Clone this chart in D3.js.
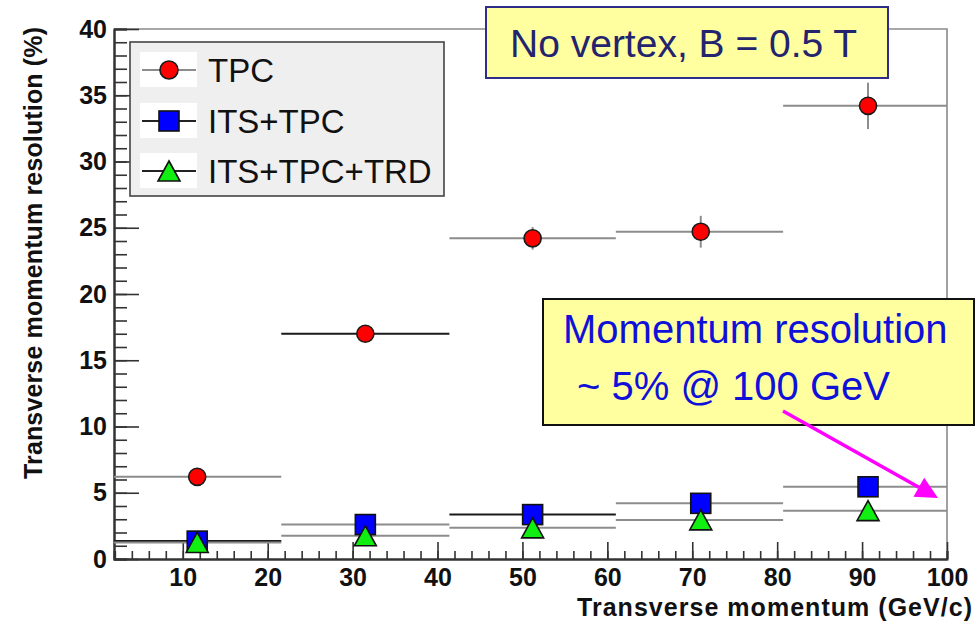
<!DOCTYPE html>
<html>
<head>
<meta charset="utf-8">
<script src="https://cdn.jsdelivr.net/npm/d3@7"></script>
<style>
  html, body { margin: 0; padding: 0; background: #fff; }
  svg { display: block; }
  text { font-family: "Liberation Sans", Arial, sans-serif; }
</style>
</head>
<body>
<svg id="chart" width="976" height="623"></svg>
<script>
// Transverse momentum bins (GeV/c): centre and edges
const binCentres = [11.7, 31.5, 51.2, 71.0, 90.7];
const binLow     = [1.8, 21.6, 41.4, 61.0, 80.7];
const binHigh    = [21.6, 41.4, 61.0, 80.7, 100.5];

// Resolution (%) per tracking configuration
const tpcValues    = [6.2, 17.0, 24.2, 24.7, 34.2];
const tpcErrors    = [0.2, 0.3, 0.85, 1.2, 1.75];
const itsTpcValues = [1.35, 2.6, 3.35, 4.2, 5.45];
const itsTpcErrors = [0.1, 0.1, 0.1, 0.15, 0.15];
const trdValues    = [1.25, 1.75, 2.35, 2.95, 3.65];
const trdErrors    = [0.1, 0.1, 0.1, 0.1, 0.15];

const seriesNames = ["TPC", "ITS+TPC", "ITS+TPC+TRD"];

const xTickValues = [10, 20, 30, 40, 50, 60, 70, 80, 90, 100];
const yTickValues = [0, 5, 10, 15, 20, 25, 30, 35, 40];

const xTitle = "Transverse momentum (GeV/c)";
const yTitle = "Transverse momentum resolution (%)";
const boxTopText = "No vertex, B = 0.5 T";
const boxNoteLines = ["Momentum resolution", "~ 5% @ 100 GeV"];

// ---------------------------------------------------------------
const svg = d3.select("#chart");
const plot = { left: 114, right: 947, top: 29, bottom: 559 };

const x = d3.scaleLinear().domain([1.9, 100]).range([plot.left, plot.right]);
const y = d3.scaleLinear().domain([0, 40]).range([plot.bottom, plot.top]);

const series = [
  { name: seriesNames[0], values: tpcValues,    errors: tpcErrors,    marker: "circle",   fill: "#ff0000" },
  { name: seriesNames[1], values: itsTpcValues, errors: itsTpcErrors, marker: "square",   fill: "#0000ff" },
  { name: seriesNames[2], values: trdValues,    errors: trdErrors,    marker: "triangle", fill: "#11ee11" }
];

// a few bin bars are drawn darker than the rest
const darkBars = new Set(["TPC:1", "ITS+TPC:0", "ITS+TPC:2"]);

// frame (top and right edges)
svg.append("path")
  .attr("d", `M${plot.left},${plot.top}H${plot.right}V${plot.bottom}`)
  .attr("fill", "none").attr("stroke", "#8a8a8a").attr("stroke-width", 1.6);

const fontTick = "bold 25px 'Liberation Sans', Arial, sans-serif";

// y axis: major ticks every 5, minor every 1, pointing into the frame
const yMinor = svg.append("g").attr("transform", `translate(${plot.left},0)`)
  .call(d3.axisLeft(y).tickValues(d3.range(0, 41, 1)).tickSize(-13).tickFormat(""));
const yMajor = svg.append("g").attr("transform", `translate(${plot.left},0)`)
  .call(d3.axisLeft(y).tickValues(yTickValues).tickSizeInner(-25).tickSizeOuter(0).tickPadding(7).tickFormat(d3.format("d")));

// x axis: major every 10, minor every 2, pointing up
const xMinor = svg.append("g").attr("transform", `translate(0,${plot.bottom})`)
  .call(d3.axisBottom(x).tickValues(d3.range(2, 101, 2)).tickSize(-8).tickFormat(""));
const xMajor = svg.append("g").attr("transform", `translate(0,${plot.bottom})`)
  .call(d3.axisBottom(x).tickValues(xTickValues).tickSizeInner(-17).tickSizeOuter(0).tickPadding(9).tickFormat(d3.format("d")));

[yMinor, yMajor, xMinor, xMajor].forEach(g => {
  g.select(".domain").attr("stroke", "#333").attr("stroke-width", 2);
  g.selectAll(".tick line").attr("stroke", "#333").attr("stroke-width", 1.6);
  g.selectAll(".tick text").style("font", fontTick).attr("fill", "#111");
});
xMajor.selectAll(".tick text").attr("dy", "0.71em");

// axis titles
svg.append("text")
  .attr("x", 972).attr("y", 616).attr("text-anchor", "end")
  .attr("textLength", 395)
  .style("font", "bold 25px 'Liberation Sans', Arial, sans-serif").attr("fill", "#111")
  .text(xTitle);
svg.append("text")
  .attr("transform", "translate(42,253) rotate(-90)")
  .attr("text-anchor", "middle").attr("textLength", 452)
  .style("font", "bold 25px 'Liberation Sans', Arial, sans-serif").attr("fill", "#111")
  .text(yTitle);

// markers
function drawMarker(g, kind, fill, size) {
  if (kind === "circle") {
    g.append("circle").attr("r", size * 0.45).attr("fill", fill).attr("stroke", "#1a1a1a").attr("stroke-width", 1.6);
  } else if (kind === "square") {
    const s = size;
    g.append("rect").attr("x", -s / 2).attr("y", -s / 2).attr("width", s).attr("height", s)
      .attr("fill", fill).attr("stroke", "#111").attr("stroke-width", 1.6);
  } else {
    const w = size * 1.1, h = size;
    g.append("path").attr("d", `M0,${-h / 2}L${w / 2},${h / 2}L${-w / 2},${h / 2}Z`)
      .attr("fill", fill).attr("stroke", "#111").attr("stroke-width", 1.6).attr("stroke-linejoin", "miter");
  }
}

svg.append("defs").append("clipPath").attr("id", "plotClip")
  .append("rect").attr("x", plot.left).attr("y", plot.top)
  .attr("width", plot.right - plot.left).attr("height", plot.bottom - plot.top);

const dataLayer = svg.append("g");

series.forEach(s => {
  const bars = dataLayer.append("g").attr("clip-path", "url(#plotClip)");
  s.values.forEach((v, i) => {
    const col = darkBars.has(`${s.name}:${i}`) ? "#1a1a1a" : "#8c8c8c";
    bars.append("line")
      .attr("x1", x(binLow[i])).attr("x2", x(binHigh[i]))
      .attr("y1", y(v)).attr("y2", y(v))
      .attr("stroke", col).attr("stroke-width", 2);
    bars.append("line")
      .attr("x1", x(binCentres[i])).attr("x2", x(binCentres[i]))
      .attr("y1", y(v - s.errors[i])).attr("y2", y(v + s.errors[i]))
      .attr("stroke", col).attr("stroke-width", 2);
  });
});

series.forEach(s => {
  s.values.forEach((v, i) => {
    const g = dataLayer.append("g").attr("transform", `translate(${x(binCentres[i])},${y(v)})`);
    drawMarker(g, s.marker, s.fill, s.marker === "circle" ? 19 : 20);
  });
});

// legend
const legend = svg.append("g");
legend.append("rect").attr("x", 130).attr("y", 42).attr("width", 314).attr("height", 154)
  .attr("fill", "#efefef").attr("stroke", "#444").attr("stroke-width", 1.6);
const legendRows = [70, 121, 171];
series.forEach((s, i) => {
  const cy = legendRows[i];
  legend.append("rect").attr("x", 140).attr("y", cy - 18).attr("width", 57).attr("height", 35).attr("fill", "#ffffff");
  legend.append("line").attr("x1", 142).attr("x2", 196).attr("y1", cy).attr("y2", cy)
    .attr("stroke", i === 0 ? "#8c8c8c" : "#222").attr("stroke-width", 1.8);
  const g = legend.append("g").attr("transform", `translate(169,${cy})`);
  drawMarker(g, s.marker, s.fill, 20);
  legend.append("text").attr("x", 208).attr("y", cy + 12)
    .style("font", "33px 'Liberation Sans', Arial, sans-serif").attr("fill", "#111")
    .text(s.name);
});

// header box
svg.append("rect").attr("x", 486).attr("y", 7).attr("width", 402).attr("height", 71)
  .attr("fill", "#ffffa0").attr("stroke", "#2e2e8a").attr("stroke-width", 2);
svg.append("text").attr("x", 510).attr("y", 57)
  .style("font", "39px 'Liberation Sans', Arial, sans-serif").attr("fill", "#24246e")
  .text(boxTopText);

// note box
svg.append("rect").attr("x", 543).attr("y", 299).attr("width", 431).attr("height", 126)
  .attr("fill", "#ffffa0").attr("stroke", "#111").attr("stroke-width", 2);
svg.append("text").attr("x", 563).attr("y", 343)
  .style("font", "40px 'Liberation Sans', Arial, sans-serif").attr("fill", "#1010d8")
  .text(boxNoteLines[0]);
svg.append("text").attr("x", 577).attr("y", 400)
  .style("font", "40px 'Liberation Sans', Arial, sans-serif").attr("fill", "#1010d8")
  .text(boxNoteLines[1]);

// arrow from the note towards 100 GeV
const a0 = [783, 411], a1 = [938, 498];
const ang = Math.atan2(a1[1] - a0[1], a1[0] - a0[0]);
const headLen = 22, headHalf = 11;
const hb = [a1[0] - headLen * Math.cos(ang), a1[1] - headLen * Math.sin(ang)];
svg.append("line").attr("x1", a0[0]).attr("y1", a0[1]).attr("x2", hb[0]).attr("y2", hb[1])
  .attr("stroke", "#ff00ff").attr("stroke-width", 3.5);
svg.append("path")
  .attr("d", `M${a1[0]},${a1[1]}L${hb[0] - headHalf * Math.sin(ang)},${hb[1] + headHalf * Math.cos(ang)}L${hb[0] + headHalf * Math.sin(ang)},${hb[1] - headHalf * Math.cos(ang)}Z`)
  .attr("fill", "#ff00ff");
</script>
</body>
</html>
